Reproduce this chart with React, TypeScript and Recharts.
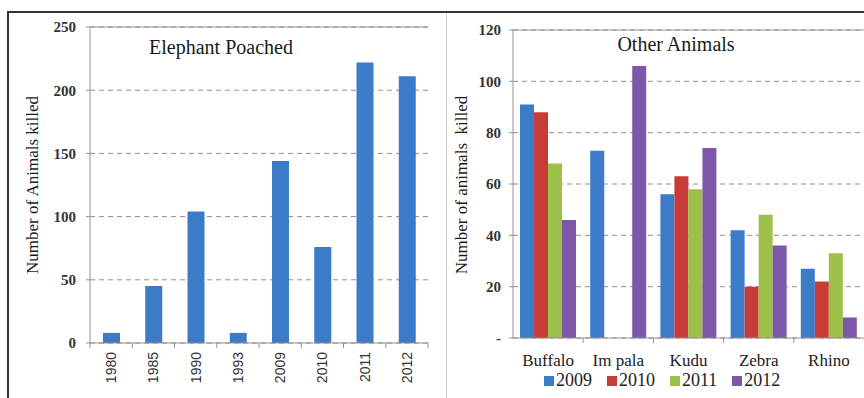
import {
  Bar,
  BarChart,
  CartesianGrid,
  Legend,
  ReferenceLine,
  XAxis,
  YAxis,
} from "recharts";

const elephantYears = ["1980", "1985", "1990", "1993", "2009", "2010", "2011", "2012"];
const elephantsKilled = [8, 45, 104, 8, 144, 76, 222, 211];
const elephantTicks = [0, 50, 100, 150, 200, 250];

const animals = ["Buffalo", "Im pala", "Kudu", "Zebra", "Rhino"];
const killed2009 = [91, 73, 56, 42, 27];
const killed2010 = [88, 0, 63, 20, 22];
const killed2011 = [68, 0, 58, 48, 33];
const killed2012 = [46, 106, 74, 36, 8];
const otherTicks = [0, 20, 40, 60, 80, 100, 120];

const seriesYears = ["2009", "2010", "2011", "2012"];
const seriesValues = [killed2009, killed2010, killed2011, killed2012];
const seriesColors = ["#3b7bc8", "#c83c38", "#9cc04a", "#7e58a8"];

const elephantData = elephantYears.map((year, i) => ({
  year,
  killed: elephantsKilled[i],
}));

const otherData = animals.map((animal, i) => {
  const row: Record<string, string | number> = { animal };
  seriesYears.forEach((y, s) => {
    row[`y${y}`] = seriesValues[s][i];
  });
  return row;
});

const serif = "'Liberation Serif', 'Times New Roman', serif";
const axisColor = "#9a9191";
const gridColor = "#8f8f8f";

// left panel geometry
const LEFT_W = 440;
const LEFT_AXIS_W = 90;
const LEFT_RIGHT_M = 12;
const leftBand = (LEFT_W - LEFT_AXIS_W - LEFT_RIGHT_M) / elephantYears.length;

// right panel geometry
const RIGHT_X = 446;
const RIGHT_W = 864 - RIGHT_X;
const RIGHT_AXIS_W = 67;
const rightBand = (RIGHT_W - RIGHT_AXIS_W) / animals.length;

const YearTick = (props: any) => {
  const { x, y, payload, index } = props;
  const ty = y + 9;
  return (
    <g>
      <line x1={x - leftBand / 2} x2={x - leftBand / 2} y1={y} y2={y + 5} stroke={axisColor} />
      {index === elephantYears.length - 1 && (
        <line x1={x + leftBand / 2} x2={x + leftBand / 2} y1={y} y2={y + 5} stroke={axisColor} />
      )}
      <text
        x={x}
        y={ty}
        transform={`rotate(-90, ${x}, ${ty})`}
        textAnchor="end"
        dominantBaseline="central"
        fontFamily="'Liberation Sans', Arial, sans-serif"
        fontSize={14}
        fill="#333"
      >
        {payload.value}
      </text>
    </g>
  );
};

const AnimalTick = (props: any) => {
  const { x, y, payload, index } = props;
  return (
    <g>
      {index > 0 && (
        <line x1={x - rightBand / 2} x2={x - rightBand / 2} y1={y} y2={y + 5} stroke={axisColor} />
      )}
      <text
        x={x}
        y={y + 28}
        textAnchor="middle"
        fontFamily={serif}
        fontSize={17}
        fill="#222"
        style={{ whiteSpace: "pre" }}
      >
        {payload.value}
      </text>
    </g>
  );
};

const OtherLegend = ({ payload }: any) => (
  <div style={{ display: "flex", gap: 15, fontFamily: serif, fontSize: 18, color: "#222" }}>
    {(payload || []).map((entry: any) => (
      <span key={entry.value} style={{ display: "flex", alignItems: "center", gap: 2 }}>
        <span style={{ width: 10, height: 10, background: entry.color, display: "inline-block" }} />
        {entry.value}
      </span>
    ))}
  </div>
);

const tickStyle = { fill: "#333", fontSize: 15, fontFamily: serif, fontWeight: 700 };

const chartTitle = (left: number, top: number): React.CSSProperties => ({
  position: "absolute",
  left,
  top,
  transform: "translate(-50%, -50%)",
  fontFamily: serif,
  fontSize: 20,
  color: "#1a1a1a",
  whiteSpace: "nowrap",
});

const rotatedTitle = (left: number, top: number): React.CSSProperties => ({
  position: "absolute",
  left,
  top,
  transform: "translate(-50%, -50%) rotate(-90deg)",
  whiteSpace: "pre",
  fontFamily: serif,
  fontSize: 17,
  color: "#1a1a1a",
});

export default function App() {
  return (
    <div
      style={{
        position: "fixed",
        left: 0,
        top: 0,
        width: 864,
        height: 398,
        background: "#fff",
        overflow: "hidden",
      }}
    >
      {/* frame */}
      <div style={{ position: "absolute", left: 7, top: 11, width: 857, height: 2, background: "#333" }} />
      <div style={{ position: "absolute", left: 7, top: 11, width: 2, height: 387, background: "#333" }} />
      <div style={{ position: "absolute", left: RIGHT_X, top: 13, width: 1, height: 385, background: "#cfcfcf" }} />

      <div style={{ position: "absolute", left: 0, top: 0 }}>
        <BarChart
          width={LEFT_W}
          height={398}
          data={elephantData}
          margin={{ top: 27, right: LEFT_RIGHT_M, bottom: 0, left: 0 }}
          barSize={17}
        >
          <CartesianGrid vertical={false} strokeDasharray="5 4" stroke={gridColor} />
          <XAxis
            dataKey="year"
            height={55}
            tick={<YearTick />}
            tickLine={false}
            tickSize={0}
            tickMargin={0}
            interval={0}
            axisLine={{ stroke: axisColor }}
          />
          <YAxis
            width={LEFT_AXIS_W}
            domain={[0, 250]}
            ticks={elephantTicks}
            interval={0}
            tick={tickStyle}
            tickSize={4}
            tickMargin={10}
            tickLine={{ stroke: axisColor }}
            axisLine={{ stroke: axisColor }}
          />
          <YAxis
            yAxisId="frame"
            orientation="right"
            width={0}
            domain={[0, 250]}
            tick={false}
            tickLine={false}
            axisLine={{ stroke: axisColor }}
          />
          <ReferenceLine y={250} stroke={axisColor} />
          <Bar dataKey="killed" fill="#3b7bc8" isAnimationActive={false} />
        </BarChart>
      </div>

      <div style={chartTitle(221, 47)}>Elephant Poached</div>
      <div style={rotatedTitle(33, 185)}>Number of Animals killed</div>

      <div style={{ position: "absolute", left: RIGHT_X, top: 0 }}>
        <BarChart
          width={RIGHT_W}
          height={398}
          data={otherData}
          margin={{ top: 30, right: 0, bottom: 0, left: 0 }}
          barCategoryGap="10%"
          barGap={0}
        >
          <CartesianGrid vertical={false} strokeDasharray="5 4" stroke={gridColor} />
          <XAxis
            dataKey="animal"
            height={60}
            tick={<AnimalTick />}
            tickLine={false}
            tickSize={0}
            tickMargin={0}
            interval={0}
            axisLine={{ stroke: axisColor }}
          />
          <YAxis
            width={RIGHT_AXIS_W}
            domain={[0, 120]}
            ticks={otherTicks}
            interval={0}
            tick={tickStyle}
            tickFormatter={(v) => (v === 0 ? "-" : String(v))}
            tickSize={4}
            tickMargin={8}
            tickLine={{ stroke: axisColor }}
            axisLine={{ stroke: axisColor }}
          />
          <ReferenceLine y={120} stroke={axisColor} />
          {seriesYears.map((year, s) => (
            <Bar
              key={year}
              dataKey={`y${year}`}
              name={year}
              fill={seriesColors[s]}
              isAnimationActive={false}
            />
          ))}
          <Legend
            verticalAlign="middle"
            align="center"
            content={<OtherLegend />}
            wrapperStyle={{ top: 370, left: 98, width: "auto" }}
          />
        </BarChart>
      </div>

      <div style={chartTitle(676, 44)}>Other Animals</div>
      <div style={rotatedTitle(462, 185)}>{"Number of animals  killed"}</div>
    </div>
  );
}
